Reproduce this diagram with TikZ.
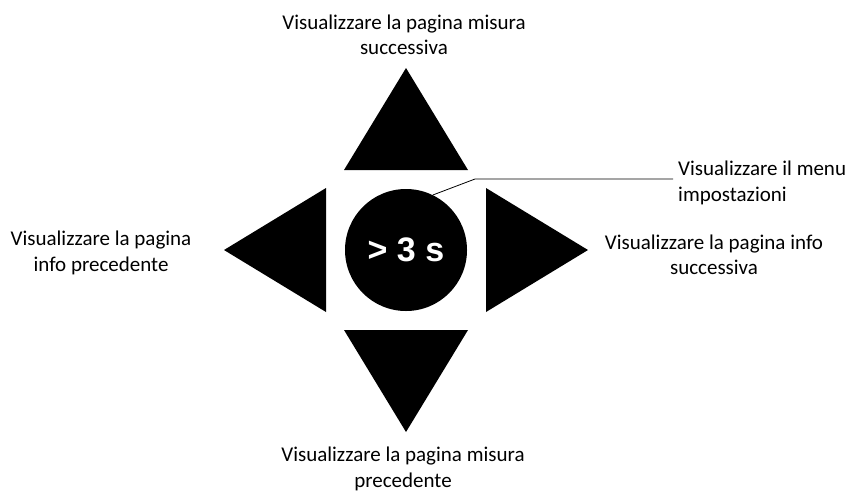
\documentclass[tikz,border=0pt]{standalone}
\usepackage{fontspec}
\setmainfont{Carlito}
\newfontfamily\keyfont{Liberation Sans}
\usepackage{tikz}

\begin{document}
\begin{tikzpicture}[x=1pt, y=-1pt,
  every label text/.style={inner sep=0pt, align=center, font=\fontsize{21}{25.5}\selectfont},
  key button/.style={circle, fill=black, inner sep=0pt, minimum size=122pt,
    text=white, font=\keyfont\bfseries\fontsize{34}{34}\selectfont}]
\useasboundingbox (0,0) rectangle (850,491);

\node [key button] (btn) at (406,250) {> 3 s};

% arrow keys round the button
\foreach \a in {0,90,180,270}
  \fill [shift={(btn.center)}, rotate=\a] (80,-62) -- (182,0) -- (80,62) -- cycle;

\node [every label text/.try] (page-next) at (404,35)
  {Visualizzare la pagina misura\\successiva};
\node [every label text/.try] (page-prev) at (403,469)
  {Visualizzare la pagina misura\\precedente};
\node [every label text/.try] (info-prev) at (101,253)
  {Visualizzare la pagina\\info precedente};
\node [every label text/.try] (info-next) at (714,255)
  {Visualizzare la pagina info\\successiva};
\node [every label text/.try, align=left, anchor=west, inner xsep=5pt] (menu) at (673,183)
  {Visualizzare il menu\\impostazioni};

\coordinate (bend) at (475,179);
\draw [line width=0.8pt] (btn.64) -- (bend) -- (bend -| menu.west);
\end{tikzpicture}
\end{document}
